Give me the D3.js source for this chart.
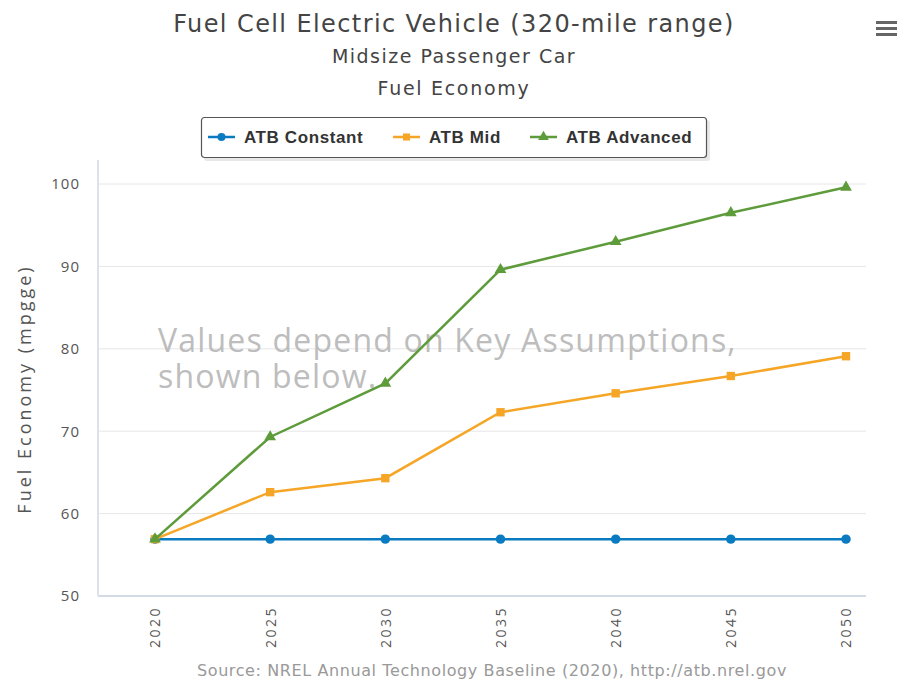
<!DOCTYPE html>
<html>
<head>
<meta charset="utf-8">
<script src="https://cdn.jsdelivr.net/npm/d3@7"></script>
<style>
  body { margin: 0; background: #fff; }
  svg { display: block; }
</style>
</head>
<body>
<div id="chart"></div>
<script>
// Chart values
const years = [2020, 2025, 2030, 2035, 2040, 2045, 2050];
const atbConstant = [56.9, 56.9, 56.9, 56.9, 56.9, 56.9, 56.9];
const atbMid = [56.9, 62.6, 64.3, 72.3, 74.6, 76.7, 79.1];
const atbAdvanced = [56.9, 69.3, 75.8, 89.6, 93.0, 96.5, 99.6];
const yTicks = [50, 60, 70, 80, 90, 100];
const seriesNames = ['ATB Constant', 'ATB Mid', 'ATB Advanced'];

const series = [
  { name: seriesNames[0], values: atbConstant, color: '#0b7bc1', symbol: d3.symbolCircle },
  { name: seriesNames[1], values: atbMid, color: '#f5a626', symbol: d3.symbolSquare },
  { name: seriesNames[2], values: atbAdvanced, color: '#5e9b3b', symbol: d3.symbolTriangle }
];

const width = 897, height = 680;
const plot = { left: 98, right: 866, top: 160, bottom: 596 };

const svg = d3.select('#chart').append('svg')
  .attr('width', width)
  .attr('height', height);

// Titles
const font = '"Open Sans", sans-serif';
const wideFont = '"DejaVu Sans", sans-serif';
const titles = [
  { text: 'Fuel Cell Electric Vehicle (320-mile range)', y: 32, size: 24, spacing: 1.4 },
  { text: 'Midsize Passenger Car', y: 63, size: 19, spacing: 1.5 },
  { text: 'Fuel Economy', y: 95, size: 19, spacing: 1.7 }
];
svg.selectAll('.title')
  .data(titles)
  .join('text')
  .attr('class', 'title')
  .attr('x', 454).attr('y', d => d.y)
  .attr('text-anchor', 'middle')
  .attr('font-family', wideFont)
  .attr('font-size', d => d.size)
  .attr('letter-spacing', d => d.spacing)
  .attr('fill', '#444')
  .text(d => d.text);

// Hamburger menu icon
const menu = svg.append('g').attr('transform', 'translate(876,21)');
[0, 6, 12].forEach(dy => {
  menu.append('rect')
    .attr('x', 0).attr('y', dy)
    .attr('width', 21).attr('height', 3)
    .attr('fill', '#666');
});

// Scales
const x = d3.scalePoint()
  .domain(years)
  .range([155, 846]);
const y = d3.scaleLinear()
  .domain([50, 100])
  .range([plot.bottom, 184]);

// Grid lines
svg.append('g')
  .attr('class', 'grid')
  .selectAll('line')
  .data(yTicks)
  .join('line')
  .attr('x1', plot.left).attr('x2', plot.right)
  .attr('y1', d => y(d)).attr('y2', d => y(d))
  .attr('stroke', d => d === 50 ? '#d5dbe6' : '#e6e6e6')
  .attr('stroke-width', d => d === 50 ? 2 : 1);

// Left axis line
svg.append('line')
  .attr('x1', plot.left).attr('x2', plot.left)
  .attr('y1', plot.top).attr('y2', plot.bottom)
  .attr('stroke', '#dde1e8')
  .attr('stroke-width', 2);

// Y axis labels
const yAxis = d3.axisLeft(y)
  .tickValues(yTicks)
  .tickSize(0)
  .tickPadding(0);
const yAxisG = svg.append('g')
  .attr('transform', 'translate(80,0)')
  .call(yAxis);
yAxisG.select('.domain').remove();
yAxisG.selectAll('text')
  .attr('font-family', font)
  .attr('font-size', 15)
  .attr('letter-spacing', 1)
  .attr('fill', '#555');

svg.append('text')
  .attr('transform', 'translate(31,389) rotate(-90)')
  .attr('text-anchor', 'middle')
  .attr('font-family', font)
  .attr('font-size', 18)
  .attr('letter-spacing', 3)
  .attr('fill', '#555')
  .text('Fuel Economy (mpgge)');

// X axis labels, rotated
const xAxis = d3.axisBottom(x)
  .tickSize(0)
  .tickPadding(0);
const xAxisG = svg.append('g')
  .attr('transform', `translate(0,${plot.bottom})`)
  .call(xAxis);
xAxisG.select('.domain').remove();
xAxisG.selectAll('text')
  .attr('transform', 'rotate(-90)')
  .attr('text-anchor', 'end')
  .attr('x', -10)
  .attr('y', 0)
  .attr('dy', '0.35em')
  .attr('font-family', font)
  .attr('font-size', 14)
  .attr('letter-spacing', 2.5)
  .attr('fill', '#555');

// Watermark
const note = svg.append('text')
  .attr('font-family', font)
  .attr('font-size', 32)
  .attr('letter-spacing', 1.2)
  .attr('fill', '#bdbdbd');
note.append('tspan').attr('x', 158).attr('y', 352).text('Values depend on Key Assumptions,');
note.append('tspan').attr('x', 158).attr('y', 388).text('shown below.');

// Lines and markers
const line = d3.line()
  .x((d, i) => x(years[i]))
  .y(d => y(d));

const seriesG = svg.selectAll('.series')
  .data(series)
  .join('g')
  .attr('class', 'series');

seriesG.append('path')
  .attr('d', d => line(d.values))
  .attr('fill', 'none')
  .attr('stroke', d => d.color)
  .attr('stroke-width', 2.5);

seriesG.each(function (s) {
  d3.select(this).selectAll('.mark')
    .data(s.values)
    .join('path')
    .attr('class', 'mark')
    .attr('transform', (d, i) => `translate(${x(years[i])},${y(d)})`)
    .attr('d', d3.symbol().type(s.symbol).size(s.symbol === d3.symbolTriangle ? 60 : 70))
    .attr('fill', s.color);
});

// Legend
const legend = svg.append('g').attr('transform', 'translate(201,117)');
legend.append('rect')
  .attr('x', 3).attr('y', 3)
  .attr('width', 506).attr('height', 41)
  .attr('rx', 3)
  .attr('fill', '#e8e8e8');
legend.append('rect')
  .attr('x', 0.5).attr('y', 0.5)
  .attr('width', 505).attr('height', 40)
  .attr('rx', 3)
  .attr('fill', '#fff')
  .attr('stroke', '#555')
  .attr('stroke-width', 1.2);

const legendX = [7, 192, 329];
const item = legend.selectAll('.item')
  .data(series)
  .join('g')
  .attr('class', 'item')
  .attr('transform', (d, i) => `translate(${legendX[i]},20)`);
item.append('line')
  .attr('x1', 0).attr('x2', 27)
  .attr('stroke', d => d.color)
  .attr('stroke-width', 2.5);
item.append('path')
  .attr('transform', 'translate(13.5,0)')
  .attr('d', d => d3.symbol().type(d.symbol).size(50)())
  .attr('fill', d => d.color);
item.append('text')
  .attr('x', 36).attr('y', 6)
  .attr('font-family', '"Liberation Sans", Arial, sans-serif')
  .attr('font-size', 17)
  .attr('font-weight', 'bold')
  .attr('letter-spacing', 0.6)
  .attr('fill', '#333')
  .text(d => d.name);

// Source credit
svg.append('text')
  .attr('x', 492).attr('y', 676)
  .attr('text-anchor', 'middle')
  .attr('font-family', wideFont)
  .attr('font-size', 16)
  .attr('letter-spacing', 0.6)
  .attr('fill', '#999')
  .text('Source: NREL Annual Technology Baseline (2020), http://atb.nrel.gov');
</script>
</body>
</html>
